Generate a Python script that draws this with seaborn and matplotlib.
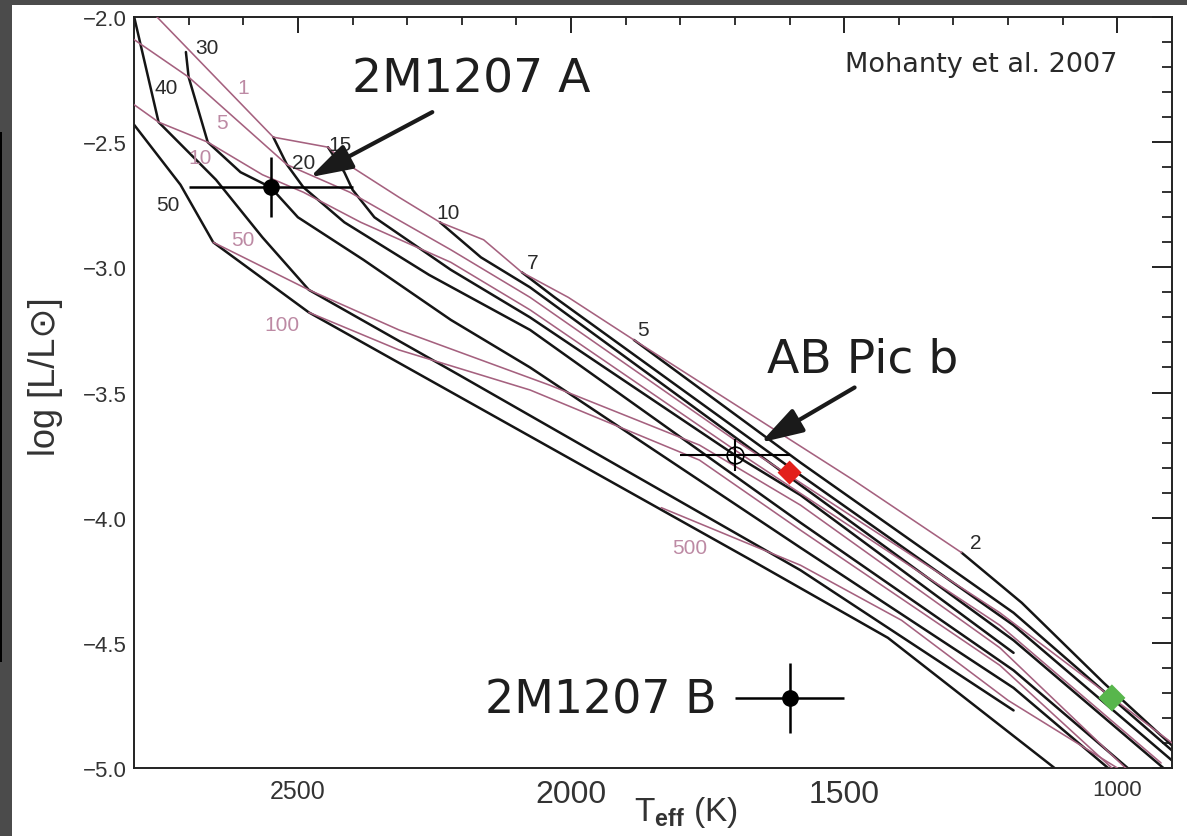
import numpy as np
import matplotlib
matplotlib.use("Agg")
import matplotlib.pyplot as plt
import seaborn as sns
from matplotlib.patches import Rectangle
from matplotlib.ticker import FixedLocator

# ---------------- data (Teff [K], log L/Lsun) ----------------
# evolutionary tracks, labelled by mass (M_Jup)
trk50_T = [2800, 2715, 2655, 2480, 1670, 1420, 1115, 1095]
trk50_L = [-2.43, -2.67, -2.90, -3.18, -4.17, -4.48, -5.00, -5.04]
trk40_T = [2805, 2755, 2650, 2565, 2480, 2205, 1580, 1190]
trk40_L = [-1.95, -2.42, -2.65, -2.88, -3.09, -3.43, -4.21, -4.77]
trk30_T = [2705, 2700, 2665, 2605, 2550, 2500, 2380, 2220, 2075, 1580, 1190, 990]
trk30_L = [-2.14, -2.24, -2.50, -2.62, -2.68, -2.80, -2.97, -3.21, -3.40, -4.12, -4.68, -5.05]
trk20_T = [2545, 2520, 2490, 2415, 2260, 2075, 1580, 1190, 965]
trk20_L = [-2.48, -2.59, -2.68, -2.82, -3.03, -3.25, -4.02, -4.61, -5.03]
trk15_T = [2445, 2415, 2400, 2360, 2220, 2075, 1700, 1580, 1190]
trk15_L = [-2.52, -2.62, -2.69, -2.80, -3.01, -3.20, -3.75, -3.91, -4.54]
trk10_T = [2240, 2165, 2075, 1580, 1190, 905]
trk10_L = [-2.82, -2.96, -3.08, -3.87, -4.49, -5.02]
trk7_T = [2090, 2030, 1580, 1190, 900, 885]
trk7_L = [-3.02, -3.12, -3.83, -4.43, -4.97, -5.00]
trk5_T = [1885, 1580, 1190, 900, 885]
trk5_L = [-3.29, -3.78, -4.38, -4.93, -4.96]
trk2_T = [1285, 1175, 1025, 900, 885]
trk2_L = [-4.14, -4.34, -4.66, -4.91, -4.94]

# isochrones, labelled by age (Myr)
iso1_T = [2780, 2545, 2445, 2415, 2315, 2240, 2160, 2090, 2005, 1885, 1483, 1285]
iso1_L = [-1.95, -2.48, -2.52, -2.58, -2.72, -2.82, -2.89, -3.02, -3.12, -3.29, -3.85, -4.14]
iso5_T = [2830, 2800, 2700, 2520, 2405, 2220, 2075, 1700, 1215, 900]
iso5_L = [-2.05, -2.09, -2.24, -2.59, -2.70, -2.93, -3.12, -3.69, -4.38, -4.90]
iso10_T = [2830, 2800, 2755, 2665, 2565, 2490, 2385, 2220, 2075, 1700, 1215, 920]
iso10_L = [-2.30, -2.35, -2.42, -2.50, -2.63, -2.70, -2.82, -2.98, -3.17, -3.73, -4.43, -4.98]
iso50_T = [2655, 2480, 2315, 2040, 1765, 1580, 1215, 985, 970]
iso50_L = [-2.90, -3.09, -3.25, -3.47, -3.71, -3.95, -4.52, -5.00, -5.03]
iso100_T = [2480, 2315, 2075, 1765, 1580, 1215, 1010, 995]
iso100_L = [-3.18, -3.33, -3.49, -3.77, -4.05, -4.59, -5.00, -5.03]
iso500_T = [1835, 1580, 1395, 1200, 1000, 985]
iso500_L = [-3.96, -4.19, -4.41, -4.73, -5.00, -5.03]

# track labels (mass) and isochrone labels (age)
mass_labels = ["50", "40", "30", "20", "15", "10", "7", "5", "2"]
mass_lab_T = [2738, 2741, 2666, 2490, 2423, 2225, 2071, 1868, 1260]
mass_lab_L = [-2.75, -2.28, -2.12, -2.58, -2.51, -2.78, -2.98, -3.25, -4.10]
age_labels = ["1", "5", "10", "50", "100", "500"]
age_lab_T = [2600, 2639, 2679, 2600, 2529, 1782]
age_lab_L = [-2.28, -2.42, -2.56, -2.89, -3.23, -4.12]

# objects
objA_T, objA_L, objA_dT, objA_dL = 2550, -2.68, 150, 0.12
objB_T, objB_L, objB_dT, objB_dL = 1600, -4.72, 100, 0.14
abpic_T, abpic_L, abpic_dT, abpic_dL = 1700, -3.75, 100, 0.065
red_T, red_L = 1600, -3.82
green_T, green_L = 1010, -4.72

xtick_vals = [2500, 2000, 1500, 1000]
xtick_labels = ["2500", "2000", "1500", "1000"]
ytick_vals = [-5.0, -4.5, -4.0, -3.5, -3.0, -2.5, -2.0]
ytick_labels = ["\u22125.0", "\u22124.5", "\u22124.0", "\u22123.5", "\u22123.0", "\u22122.5", "\u22122.0"]

# ---------------- style ----------------
sns.set_style("white")
plt.rcParams["font.family"] = ["Liberation Sans", "DejaVu Sans"]
plt.rcParams["mathtext.fontset"] = "custom"
plt.rcParams["mathtext.rm"] = "Liberation Sans"
plt.rcParams["mathtext.bf"] = "Liberation Sans:bold"

W, H = 1187, 837
fig = plt.figure(figsize=(W / 100, H / 100), dpi=100)
fig.patch.set_facecolor("#4b4b4b")
bg = Rectangle((12 / W, 0), 1 - 12 / W, 1 - 6 / H, transform=fig.transFigure,
               facecolor="white", edgecolor="none", zorder=-10)
fig.add_artist(bg)
edge = Rectangle((0, (H - 663) / H), 2 / W, (663 - 133) / H, transform=fig.transFigure,
                 facecolor="black", edgecolor="none", zorder=-9)
fig.add_artist(edge)

ax = fig.add_axes([134 / W, 68 / H, 1038 / W, 751 / H])
ax.set_facecolor("white")

BLACK = "#151515"
PURPLE = "#a5617f"
PURPLE_TXT = "#bd8aa4"

isochrones = [(iso1_T, iso1_L), (iso5_T, iso5_L), (iso10_T, iso10_L),
              (iso50_T, iso50_L), (iso100_T, iso100_L), (iso500_T, iso500_L)]
for T, L in isochrones:
    sns.lineplot(x=T, y=L, sort=False, estimator=None, color=PURPLE, lw=1.15, ax=ax, zorder=3)

tracks = [(trk50_T, trk50_L), (trk40_T, trk40_L), (trk30_T, trk30_L), (trk20_T, trk20_L),
          (trk15_T, trk15_L), (trk10_T, trk10_L), (trk7_T, trk7_L), (trk5_T, trk5_L),
          (trk2_T, trk2_L)]
for T, L in tracks:
    sns.lineplot(x=T, y=L, sort=False, estimator=None, color=BLACK, lw=1.8, ax=ax, zorder=2.5)

for s, T, L in zip(mass_labels, mass_lab_T, mass_lab_L):
    ax.text(T, L, s, fontsize=15, color="#2a2a2a", ha="center", va="center", zorder=5)
for s, T, L in zip(age_labels, age_lab_T, age_lab_L):
    ax.text(T, L, s, fontsize=15, color=PURPLE_TXT, ha="center", va="center", zorder=5)

# objects
ax.errorbar(objA_T, objA_L, xerr=objA_dT, yerr=objA_dL, fmt="o", color="black",
            ms=11, elinewidth=1.8, capsize=0, zorder=6)
ax.errorbar(objB_T, objB_L, xerr=objB_dT, yerr=objB_dL, fmt="o", color="black",
            ms=11, elinewidth=1.8, capsize=0, zorder=6)
ax.errorbar(abpic_T, abpic_L, xerr=abpic_dT, yerr=abpic_dL, fmt="o", color="black",
            mfc="none", ms=12, mew=1.2, elinewidth=1.5, capsize=0, zorder=6)
sns.scatterplot(x=[red_T], y=[red_L], marker="D", s=150, color="#e3201b", edgecolor="none", ax=ax, zorder=7)
sns.scatterplot(x=[green_T], y=[green_L], marker="D", s=190, color="#58b64c", edgecolor="none", ax=ax, zorder=7)

# annotations
arrow_kw = dict(arrowstyle="-|>,head_length=1.3,head_width=0.4", mutation_scale=20,
                lw=3.0, color="#1a1a1a", shrinkA=0, shrinkB=0)
ax.annotate("", xy=(2478, -2.64), xytext=(2254, -2.38), arrowprops=arrow_kw, zorder=8)
ax.annotate("", xy=(1653, -3.70), xytext=(1481, -3.48), arrowprops=arrow_kw, zorder=8)

ax.text(2183, -2.296, "2M1207 A", fontsize=34, family="DejaVu Sans", color="#1e1e1e",
        ha="center", va="baseline", zorder=8)
ax.text(1466, -3.416, "AB Pic b", fontsize=34, family="DejaVu Sans", color="#1e1e1e",
        ha="center", va="baseline", zorder=8)
ax.text(1946, -4.78, "2M1207 B", fontsize=33, family="DejaVu Sans", color="#1e1e1e",
        ha="center", va="baseline", zorder=8)
ax.text(1249, -2.216, "Mohanty et al. 2007", fontsize=19.5, family="DejaVu Sans", color="#2a2a2a",
        ha="center", va="baseline", zorder=8)

# axes
ax.set_xlim(2800, 900)
ax.set_ylim(-5.0, -2.0)
ax.xaxis.set_major_locator(FixedLocator(xtick_vals))
ax.xaxis.set_minor_locator(FixedLocator(np.arange(2700, 950, -100)))
ax.yaxis.set_major_locator(FixedLocator(ytick_vals))
ax.yaxis.set_minor_locator(FixedLocator(np.round(np.arange(-4.9, -2.05, 0.1), 2)))
ax.set_xticklabels(xtick_labels)
ax.set_yticklabels(ytick_labels)

ax.tick_params(axis="both", which="both", direction="in", top=True, right=True,
               color="#222222", labelcolor="#333333")
ax.tick_params(axis="y", which="major", length=14.5, width=1.4, pad=5, labelsize=16)
ax.tick_params(axis="y", which="minor", length=7.5, width=1.3)
ax.tick_params(axis="x", which="major", length=11.5, width=1.4, pad=8)
ax.tick_params(axis="x", which="minor", length=5.5, width=1.3)
for lab, fs in zip(ax.get_xticklabels(), [18, 23, 23, 16]):
    lab.set_fontsize(fs)

for sp in ax.spines.values():
    sp.set_linewidth(1.4)
    sp.set_color("#222222")

ax.set_xlabel(r"T$_{\bf eff}$ (K)", fontsize=24, color="#333333")
ax.xaxis.set_label_coords(0.532, -0.034)
ax.set_ylabel("log [L/L\u2299]", fontsize=26, color="#333333")
ax.yaxis.set_label_coords(-0.068, 0.522)

fig.savefig("out.png", dpi=100, facecolor=fig.get_facecolor())
